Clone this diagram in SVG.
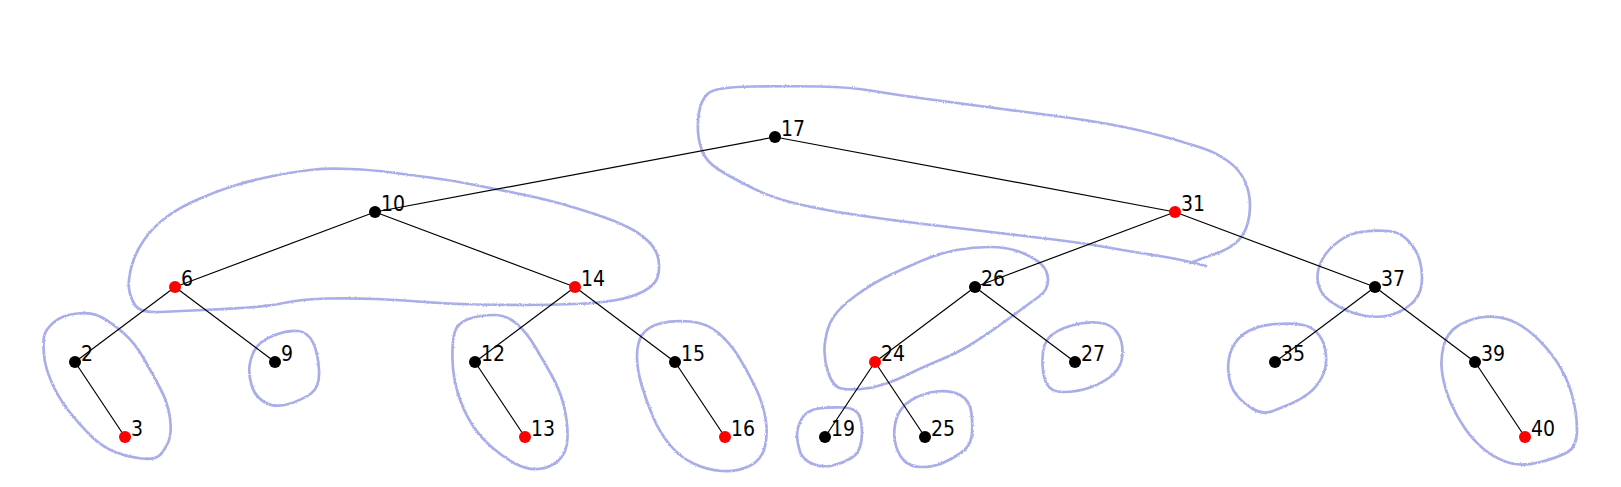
<svg xmlns="http://www.w3.org/2000/svg" width="1621" height="487" viewBox="0 0 1621 487">
<style>
.blob{fill:none;stroke:#a9aee8;stroke-width:2.7;stroke-linecap:round;stroke-linejoin:round;filter:url(#rough)}
.edge{stroke:#000;stroke-width:1.2}
.b{fill:#000}
.r{fill:#ff0000}
text{font-family:"DejaVu Sans Condensed","DejaVu Sans",sans-serif;font-stretch:condensed;font-size:21px;fill:#000}
</style>
<defs>
<filter id="rough" x="-5%" y="-5%" width="110%" height="110%">
<feTurbulence type="fractalNoise" baseFrequency="0.9" numOctaves="2" seed="3" result="n"/>
<feDisplacementMap in="SourceGraphic" in2="n" scale="2.2" xChannelSelector="R" yChannelSelector="G"/>
</filter>
</defs>
<rect width="1621" height="487" fill="#fff"/>
<g id="blobs">
<path class="blob" d="M 1206,266 Q 1180,259 1156.5,255.5 Q 1133,252 1108,247.5 Q 1083,243 1058,240 Q 1033,237 995,232.5 Q 957,228 923.5,224 Q 890,220 856.5,215 Q 823,210 798,204 Q 773,198 756.5,190 Q 740,182 725,173.5 Q 710,165 705,156.5 Q 700,148 698.5,136.5 Q 697,125 699,112.5 Q 701,100 708,93.5 Q 715,87 752.5,86.5 Q 790,86 820,86.5 Q 850,87 873.5,91 Q 897,95 927,99 Q 957,103 983.5,106.5 Q 1010,110 1048.5,115 Q 1087,120 1113.5,125 Q 1140,130 1163.5,136.5 Q 1187,143 1202,148 Q 1217,153 1228.5,161.5 Q 1240,170 1245,181.5 Q 1250,193 1250,205 Q 1250,217 1246.5,227 Q 1243,237 1235,243.5 Q 1227,250 1213.5,254.5 Q 1200,259 1190,263"/>
<path class="blob" d="M 160,312 Q 140,313 135,305 Q 130,297 129,288.5 Q 128,280 131.5,266.5 Q 135,253 144,240 Q 153,227 166.5,217 Q 180,207 200,198.5 Q 220,190 236.5,185 Q 253,180 273,176 Q 293,172 310,170 Q 327,168 350,169 Q 373,170 391.5,172.5 Q 410,175 430,177.5 Q 450,180 475,185 Q 500,190 520,194 Q 540,198 556.5,202.5 Q 573,207 593,213.5 Q 613,220 626.5,226.5 Q 640,233 648.5,241.5 Q 657,250 658.5,260 Q 660,270 657.5,277.5 Q 655,285 644,291 Q 633,297 616.5,300 Q 600,303 575,304 Q 550,305 525,305 Q 500,305 475,304.5 Q 450,304 425,302 Q 400,300 376.5,299 Q 353,298 328,298.5 Q 303,299 286.5,302.5 Q 270,306 248.5,307.5 Q 227,309 203.5,310 Q 180,311 160,312 Z"/>
<path class="blob" d="M 44,336.5 Q 45,330 53.5,322.5 Q 62,315 77,313.5 Q 92,312 102,317.5 Q 112,323 123.5,333 Q 135,343 143.5,358 Q 152,373 160,388 Q 168,403 170,418 Q 172,433 168.5,441.5 Q 165,450 160,455 Q 155,460 141.5,458.5 Q 128,457 115,452 Q 102,447 90,435 Q 78,423 68,410 Q 58,397 51.5,382 Q 45,367 44,355 Q 43,343 44,336.5 Z"/>
<path class="blob" d="M 257,346.5 Q 262,340 275,335 Q 288,330 298,331 Q 308,332 313,342.5 Q 318,353 319,370 Q 320,387 311,393.5 Q 302,400 288.5,404 Q 275,408 265,402.5 Q 255,397 251.5,385 Q 248,373 250,363 Q 252,353 257,346.5 Z"/>
<path class="blob" d="M 454.5,333 Q 457,323 468.5,319 Q 480,315 493.5,315 Q 507,315 517,324 Q 527,333 535,346.5 Q 543,360 551.5,375 Q 560,390 564,406.5 Q 568,423 567.5,438 Q 567,453 558.5,460.5 Q 550,468 538.5,469 Q 527,470 515,463.5 Q 503,457 491.5,447 Q 480,437 471.5,423.5 Q 463,410 458,393.5 Q 453,377 452.5,360 Q 452,343 454.5,333 Z"/>
<path class="blob" d="M 642,335 Q 647,327 660,323.5 Q 673,320 690,321.5 Q 707,323 718.5,333 Q 730,343 738.5,356.5 Q 747,370 755,386.5 Q 763,403 765.5,418 Q 768,433 765,446.5 Q 762,460 749.5,466 Q 737,472 722,471 Q 707,470 693.5,463.5 Q 680,457 670,445 Q 660,433 653.5,418 Q 647,403 642,386.5 Q 637,370 637,356.5 Q 637,343 642,335 Z"/>
<path class="blob" d="M 841.5,388.5 Q 833,387 828,372 Q 823,357 825,342 Q 827,327 833.5,317 Q 840,307 856.5,295 Q 873,283 890,275 Q 907,267 923.5,260 Q 940,253 956.5,250 Q 973,247 990,247 Q 1007,247 1020,252 Q 1033,257 1040.5,263.5 Q 1048,270 1048,280 Q 1048,290 1039,296.5 Q 1030,303 1018.5,311.5 Q 1007,320 995,328.5 Q 983,337 970,345 Q 957,353 940,360 Q 923,367 910,373.5 Q 897,380 885,384 Q 873,388 861.5,389 Q 850,390 841.5,388.5 Z"/>
<path class="blob" d="M 1042.5,358 Q 1043,343 1050,336.5 Q 1057,330 1070,326 Q 1083,322 1096.5,322.5 Q 1110,323 1116.5,331.5 Q 1123,340 1122.5,353.5 Q 1122,367 1112.5,375 Q 1103,383 1090,387.5 Q 1077,392 1063.5,392 Q 1050,392 1046,382.5 Q 1042,373 1042.5,358 Z"/>
<path class="blob" d="M 797,435 Q 797,427 802,418.5 Q 807,410 818.5,408.5 Q 830,407 843.5,407.5 Q 857,408 860,417.5 Q 863,427 861.5,440 Q 860,453 851.5,458 Q 843,463 833,465.5 Q 823,468 813,464 Q 803,460 800,451.5 Q 797,443 797,435 Z"/>
<path class="blob" d="M 895,441.5 Q 893,430 896.5,418.5 Q 900,407 911.5,400 Q 923,393 936.5,391.5 Q 950,390 960,395 Q 970,400 971.5,413.5 Q 973,427 971.5,437 Q 970,447 960,453.5 Q 950,460 941.5,463.5 Q 933,467 921.5,467 Q 910,467 903.5,460 Q 897,453 895,441.5 Z"/>
<path class="blob" d="M 1317.5,278.5 Q 1317,270 1322,260 Q 1327,250 1338.5,241.5 Q 1350,233 1363.5,231.5 Q 1377,230 1388.5,231 Q 1400,232 1408.5,241 Q 1417,250 1420,261.5 Q 1423,273 1421.5,285 Q 1420,297 1410,305 Q 1400,313 1388.5,315.5 Q 1377,318 1363.5,315.5 Q 1350,313 1338.5,306.5 Q 1327,300 1322.5,293.5 Q 1318,287 1317.5,278.5 Z"/>
<path class="blob" d="M 1228.5,373.5 Q 1227,360 1232,348.5 Q 1237,337 1248.5,331 Q 1260,325 1276.5,324 Q 1293,323 1303,325 Q 1313,327 1319,335 Q 1325,343 1326,355 Q 1327,367 1322,377 Q 1317,387 1308.5,393.5 Q 1300,400 1291.5,403.5 Q 1283,407 1273,411 Q 1263,415 1253,409 Q 1243,403 1236.5,395 Q 1230,387 1228.5,373.5 Z"/>
<path class="blob" d="M 1442.5,375 Q 1440,360 1443.5,346.5 Q 1447,333 1457,326.5 Q 1467,320 1480,317.5 Q 1493,315 1506.5,319 Q 1520,323 1533.5,335 Q 1547,347 1557,362 Q 1567,377 1572,395 Q 1577,413 1577,430 Q 1577,447 1567,452.5 Q 1557,458 1538.5,462.5 Q 1520,467 1506.5,462 Q 1493,457 1483,448.5 Q 1473,440 1465,428.5 Q 1457,417 1451,403.5 Q 1445,390 1442.5,375 Z"/>
</g>
<g id="connectors" class="edge">
<line x1="775" y1="137" x2="375" y2="212"/>
<line x1="775" y1="137" x2="1175" y2="212"/>
<line x1="375" y1="212" x2="175" y2="287"/>
<line x1="375" y1="212" x2="575" y2="287"/>
<line x1="1175" y1="212" x2="975" y2="287"/>
<line x1="1175" y1="212" x2="1375" y2="287"/>
<line x1="175" y1="287" x2="75" y2="362"/>
<line x1="175" y1="287" x2="275" y2="362"/>
<line x1="575" y1="287" x2="475" y2="362"/>
<line x1="575" y1="287" x2="675" y2="362"/>
<line x1="975" y1="287" x2="875" y2="362"/>
<line x1="975" y1="287" x2="1075" y2="362"/>
<line x1="1375" y1="287" x2="1275" y2="362"/>
<line x1="1375" y1="287" x2="1475" y2="362"/>
<line x1="75" y1="362" x2="125" y2="437"/>
<line x1="475" y1="362" x2="525" y2="437"/>
<line x1="675" y1="362" x2="725" y2="437"/>
<line x1="875" y1="362" x2="825" y2="437"/>
<line x1="875" y1="362" x2="925" y2="437"/>
<line x1="1475" y1="362" x2="1525" y2="437"/>
</g>
<g id="n17"><circle class="b" cx="775" cy="137" r="6"/><text x="781" y="136">17</text></g>
<g id="n10"><circle class="b" cx="375" cy="212" r="6"/><text x="381" y="211">10</text></g>
<g id="n31"><circle class="r" cx="1175" cy="212" r="6"/><text x="1181" y="211">31</text></g>
<g id="n6"><circle class="r" cx="175" cy="287" r="6"/><text x="181" y="286">6</text></g>
<g id="n14"><circle class="r" cx="575" cy="287" r="6"/><text x="581" y="286">14</text></g>
<g id="n26"><circle class="b" cx="975" cy="287" r="6"/><text x="981" y="286">26</text></g>
<g id="n37"><circle class="b" cx="1375" cy="287" r="6"/><text x="1381" y="286">37</text></g>
<g id="n2"><circle class="b" cx="75" cy="362" r="6"/><text x="81" y="361">2</text></g>
<g id="n9"><circle class="b" cx="275" cy="362" r="6"/><text x="281" y="361">9</text></g>
<g id="n12"><circle class="b" cx="475" cy="362" r="6"/><text x="481" y="361">12</text></g>
<g id="n15"><circle class="b" cx="675" cy="362" r="6"/><text x="681" y="361">15</text></g>
<g id="n24"><circle class="r" cx="875" cy="362" r="6"/><text x="881" y="361">24</text></g>
<g id="n27"><circle class="b" cx="1075" cy="362" r="6"/><text x="1081" y="361">27</text></g>
<g id="n35"><circle class="b" cx="1275" cy="362" r="6"/><text x="1281" y="361">35</text></g>
<g id="n39"><circle class="b" cx="1475" cy="362" r="6"/><text x="1481" y="361">39</text></g>
<g id="n3"><circle class="r" cx="125" cy="437" r="6"/><text x="131" y="436">3</text></g>
<g id="n13"><circle class="r" cx="525" cy="437" r="6"/><text x="531" y="436">13</text></g>
<g id="n16"><circle class="r" cx="725" cy="437" r="6"/><text x="731" y="436">16</text></g>
<g id="n19"><circle class="b" cx="825" cy="437" r="6"/><text x="831" y="436">19</text></g>
<g id="n25"><circle class="b" cx="925" cy="437" r="6"/><text x="931" y="436">25</text></g>
<g id="n40"><circle class="r" cx="1525" cy="437" r="6"/><text x="1531" y="436">40</text></g>
</svg>
